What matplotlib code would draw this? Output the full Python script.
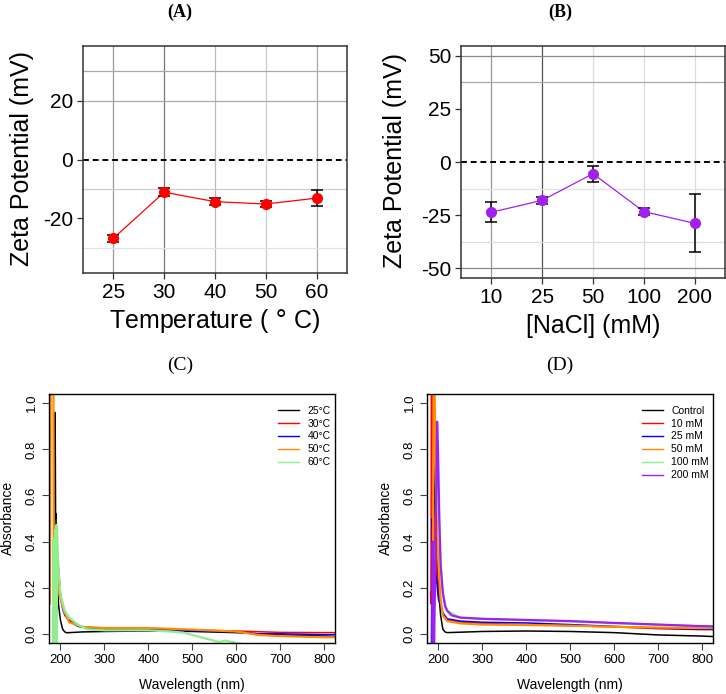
import matplotlib
matplotlib.use("Agg")
import matplotlib.pyplot as plt

plt.rcParams["font.family"] = ["Liberation Sans", "DejaVu Sans"]

# ---- Panel A: zeta potential vs temperature ----
temp_labels = ["25", "30", "40", "50", "60"]
zeta_temp = [-26.7, -11.1, -14.3, -15.1, -13.1]
zeta_temp_err = [1.2, 1.3, 1.2, 1.0, 2.7]

# ---- Panel B: zeta potential vs NaCl ----
nacl_labels = ["10", "25", "50", "100", "200"]
zeta_nacl = [-23.6, -18.0, -5.5, -23.3, -28.8]
zeta_nacl_err = [4.8, 1.5, 3.7, 1.7, 13.7]

# ---- Panel C: UV-vis spectra at different temperatures ----
wl_25c = [186, 188, 189, 190, 191, 193, 196, 200, 205, 210, 215, 220, 250, 300,
          400, 500, 600, 700, 800, 826]
abs_25c = [0.40, 0.96, 0.50, 0.52, 0.30, 0.20, 0.12, 0.06, 0.02, 0.008, 0.004,
           0.005, 0.008, 0.010, 0.012, 0.010, 0.005, -0.005, -0.010, -0.012]
wl_30c = [189, 190, 195, 200, 205, 210, 220, 240, 260, 300, 400, 500, 600, 700,
          800, 826]
abs_30c = [0.35, 0.45, 0.30, 0.18, 0.12, 0.09, 0.06, 0.035, 0.028, 0.025, 0.022,
           0.016, 0.012, 0.006, 0.005, 0.005]
wl_40c = [189, 190, 195, 200, 205, 210, 220, 240, 260, 300, 400, 500, 600, 650,
          700, 800, 826]
abs_40c = [0.30, 0.40, 0.27, 0.16, 0.11, 0.08, 0.055, 0.032, 0.025, 0.020, 0.020,
           0.013, 0.008, 0.0, 0.0, -0.004, -0.004]
wl_50c = [176, 178, 184, 185, 188, 190, 195, 200, 210, 220, 250, 300, 400, 500,
          600, 650, 700, 800, 826]
abs_50c = [0.13, 1.10, 1.10, 0.40, 0.33, 0.30, 0.22, 0.15, 0.09, 0.05, 0.030,
           0.025, 0.025, 0.018, 0.010, -0.005, -0.010, -0.015, -0.015]
wl_60c = [183, 184, 185, 186, 187, 188, 189, 190, 191, 192, 195, 200, 210, 220,
          240, 260, 300, 400, 450, 480, 500, 530, 560, 575, 590, 615]
abs_60c = [-0.05, 0.41, -0.05, 0.40, -0.05, 0.45, -0.05, 0.47, -0.05, 0.47,
           0.30, 0.17, 0.10, 0.07, 0.04, 0.02, 0.015, 0.015, 0.010, 0.005,
           -0.005, -0.020, -0.035, -0.030, -0.035, -0.045]

# ---- Panel D: UV-vis spectra at different NaCl concentrations ----
wl_ctrl = [186, 188, 190, 192, 194, 197, 200, 205, 210, 215, 220, 300, 400, 500,
           600, 700, 800, 826]
abs_ctrl = [0.0, 0.30, 0.50, 0.78, 0.60, 0.35, 0.20, 0.08, 0.02, 0.008, 0.005,
            0.010, 0.012, 0.010, 0.005, -0.005, -0.010, -0.012]
wl_10mm = [182, 183, 184, 187, 188, 190, 195, 200, 210, 220, 250, 300, 400, 500,
           600, 700, 800, 826]
abs_10mm = [0.18, 0.13, 1.10, 1.10, 0.35, 0.50, 0.30, 0.17, 0.09, 0.06, 0.050,
            0.045, 0.040, 0.035, 0.030, 0.022, 0.018, 0.018]
wl_25mm = [184, 186, 188, 190, 195, 200, 210, 220, 250, 300, 400, 500, 600, 700,
           800, 826]
abs_25mm = [-0.05, 0.50, 0.40, 0.30, 0.25, 0.15, 0.09, 0.065, 0.055, 0.050,
            0.047, 0.040, 0.032, 0.025, 0.020, 0.020]
wl_50mm = [188, 189, 191, 193, 196, 200, 205, 210, 220, 250, 300, 400, 500, 600,
           700, 800, 826]
abs_50mm = [0.40, 1.10, 1.10, 0.80, 0.50, 0.30, 0.15, 0.08, 0.055, 0.045, 0.040,
            0.038, 0.035, 0.030, 0.027, 0.025, 0.025]
wl_100mm = [195, 197, 200, 205, 210, 220, 250, 300, 400, 500, 600, 700, 800, 826]
abs_100mm = [0.55, 0.85, 0.60, 0.30, 0.17, 0.10, 0.07, 0.064, 0.059, 0.054,
             0.046, 0.039, 0.032, 0.032]
wl_200mm = [186, 187, 188, 189, 190, 193, 195, 197, 199, 202, 205, 210, 215, 220,
            230, 250, 300, 400, 500, 600, 700, 800, 826]
abs_200mm = [-0.05, 0.40, -0.05, 0.30, -0.05, 0.30, 0.60, 0.92, 0.80, 0.50, 0.30,
             0.18, 0.12, 0.10, 0.08, 0.07, 0.065, 0.060, 0.055, 0.047, 0.040,
             0.033, 0.032]

W, H = 726, 694
fig = plt.figure(figsize=(W / 100, H / 100), dpi=100)


def add_axes_px(left, top, right, bottom):
    return fig.add_axes([left / W, 1 - bottom / H, (right - left) / W,
                         (bottom - top) / H])


def zeta_panel(ax, labels, values, errs, color, ylim, yticks, hgrid, vgrid):
    x = list(range(len(labels)))
    for xi, c in zip(x, vgrid):
        ax.axvline(xi, color=c, lw=0.9, zorder=0)
    for yv, c in hgrid:
        ax.axhline(yv, color=c, lw=0.9, zorder=0)
    ax.axhline(0, color="black", lw=1.4, ls=(0, (3, 2)), zorder=1)
    ax.plot(x, values, color=color, lw=0.9, zorder=2)
    ax.errorbar(x, values, yerr=errs, fmt="none", ecolor="black", elinewidth=1.1,
                capsize=4.5, capthick=1.1, zorder=3)
    ax.plot(x, values, "o", color=color, ms=7, zorder=4)
    ax.set_xlim(-0.6, 4.6)
    ax.set_ylim(*ylim)
    ax.set_xticks(x)
    ax.set_xticklabels(labels)
    ax.set_yticks(yticks)
    ax.set_yticklabels([str(v) for v in yticks])
    ax.tick_params(labelsize=15, length=4, width=0.9, pad=3, color="#333333")
    for sp in ax.spines.values():
        sp.set_color("#333333")
        sp.set_linewidth(1.1)


# Panel A
axA = add_axes_px(83, 46, 347, 273)
zeta_panel(axA, temp_labels, zeta_temp, zeta_temp_err, "#FF0000",
           (-38.5, 38.5), [-20, 0, 20],
           [(30, "#aaaaaa"), (20, "#aaaaaa"), (-10, "#cccccc"), (-30, "#e2e2e2")],
           ["#999999", "#777777", "#bbbbbb", "#cccccc", "#aaaaaa"])
fig.text(180 / W, 1 - 12 / H, "(A)", ha="center", va="center", fontsize=13,
         fontweight="bold", family="Liberation Serif")
fig.text(22 / W, 1 - 159 / H, "Zeta Potential (mV)", rotation=90, ha="center",
         va="center", fontsize=18)
fig.text(215 / W, 1 - 321 / H, "Temperature ( $\\degree$ C)", ha="center",
         va="center", fontsize=18)

# Panel B
axB = add_axes_px(461, 46, 725, 278)
zeta_panel(axB, nacl_labels, zeta_nacl, zeta_nacl_err, "#A020F0",
           (-54.5, 54.5), [-50, -25, 0, 25, 50],
           [(50, "#888888"), (37.5, "#aaaaaa"), (-12.5, "#e2e2e2"),
            (-37.5, "#dddddd"), (-50, "#888888")],
           ["#999999", "#555555", "#dddddd", "#dddddd", "#dddddd"])
fig.text(560 / W, 1 - 12 / H, "(B)", ha="center", va="center", fontsize=13,
         fontweight="bold", family="Liberation Serif")
fig.text(395 / W, 1 - 161 / H, "Zeta Potential (mV)", rotation=90, ha="center",
         va="center", fontsize=18)
fig.text(593 / W, 1 - 326 / H, "[NaCl] (mM)", ha="center", va="center",
         fontsize=18)


def spectra_panel(ax, series, legend_anchor):
    for wl, ab, color, label in series:
        lw = 1.6 if color in ("#FF8C00", "#90EE90", "#A020F0") else 1.1
        ax.plot(wl, ab, color=color, lw=lw, label=label)
    ax.set_xlim(174, 825)
    ax.set_ylim(-0.04, 1.04)
    ax.set_xticks([200, 300, 400, 500, 600, 700, 800])
    ax.set_yticks([0.0, 0.2, 0.4, 0.6, 0.8, 1.0])
    ax.set_yticklabels(["0.0", "0.2", "0.4", "0.6", "0.8", "1.0"])
    ax.tick_params(labelsize=9.5, length=5, width=0.8, pad=3, color="#444444")
    ax.tick_params(axis="y", labelrotation=90)
    for lbl in ax.get_yticklabels():
        lbl.set_va("center")
    for sp in ax.spines.values():
        sp.set_linewidth(1.0)
    leg = ax.legend(loc="upper right", bbox_to_anchor=legend_anchor,
                    frameon=False, fontsize=7.5, handlelength=2.0,
                    handletextpad=0.8, labelspacing=0.28, borderaxespad=0)
    for line in leg.get_lines():
        line.set_linewidth(1.0)


# Panel C
axC = add_axes_px(49, 394, 335, 643)
spectra_panel(axC, [
    (wl_25c, abs_25c, "black", "25°C"),
    (wl_30c, abs_30c, "#FF0000", "30°C"),
    (wl_40c, abs_40c, "#0000FF", "40°C"),
    (wl_50c, abs_50c, "#FF8C00", "50°C"),
    (wl_60c, abs_60c, "#90EE90", "60°C"),
], (1.0, 0.97))
fig.text(180 / W, 1 - 365 / H, "(C)", ha="center", va="center", fontsize=14,
         family="Liberation Serif")
fig.text(8 / W, 1 - 518 / H, "Absorbance", rotation=90, ha="center",
         va="center", fontsize=10)
fig.text(192 / W, 1 - 685 / H, "Wavelength (nm)", ha="center", va="center",
         fontsize=10)

# Panel D
axD = add_axes_px(427, 394, 713, 643)
spectra_panel(axD, [
    (wl_ctrl, abs_ctrl, "black", "Control"),
    (wl_10mm, abs_10mm, "#FF0000", "10 mM"),
    (wl_25mm, abs_25mm, "#0000FF", "25 mM"),
    (wl_50mm, abs_50mm, "#FF8C00", "50 mM"),
    (wl_100mm, abs_100mm, "#90EE90", "100 mM"),
    (wl_200mm, abs_200mm, "#A020F0", "200 mM"),
], (1.0, 0.97))
fig.text(560 / W, 1 - 365 / H, "(D)", ha="center", va="center", fontsize=14,
         family="Liberation Serif")
fig.text(386 / W, 1 - 518 / H, "Absorbance", rotation=90, ha="center",
         va="center", fontsize=10)
fig.text(570 / W, 1 - 685 / H, "Wavelength (nm)", ha="center", va="center",
         fontsize=10)

fig.savefig("out.png", dpi=100)
plt.close(fig)
